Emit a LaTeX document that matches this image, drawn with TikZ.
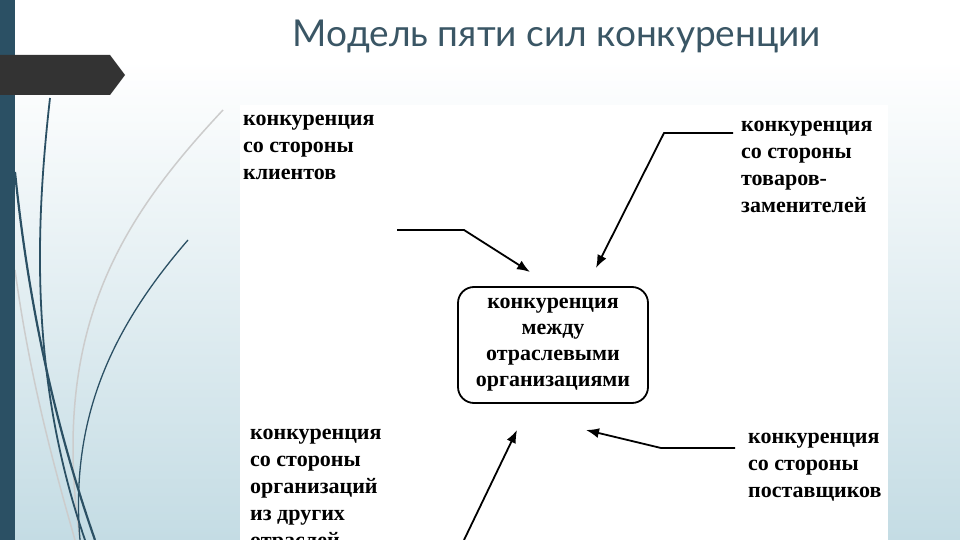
\documentclass[tikz,border=0pt]{standalone}
\usepackage{fontspec}
\setmainfont{Liberation Serif}
\newfontfamily\titlefont{Lato}
\usetikzlibrary{arrows.meta}
\definecolor{teal1}{HTML}{2B5064}
\definecolor{bgblue}{HTML}{C4DCE4}
\definecolor{titlec}{HTML}{3A5665}
\begin{document}
\begin{tikzpicture}[x=1pt,y=-1pt,
  lbl/.style={anchor=north west,align=left,font=\fontsize{22}{27}\selectfont\bfseries,inner sep=0pt},
  arr/.style={line width=1.8pt,-{Latex[length=13pt,width=10pt]}},
  curveT/.style={teal1,line width=2.2pt},
  curveG/.style={gray!40,line width=1.5pt}]
\useasboundingbox (0,0) rectangle (960,540);
\shade[top color=white,bottom color=bgblue] (0,60) rectangle (960,540);
\fill[white] (0,0) rectangle (960,60);
% curves
\draw[curveG] (223,110) .. controls (120,220) and (50,330) .. (80,540);
\draw[curveG] (15,270) .. controls (30,380) and (55,470) .. (75,540);
\draw[curveT] (15,172) .. controls (30,320) and (60,440) .. (95,540);
\draw[curveT,line width=1.8pt] (50,98) .. controls (35,230) and (30,380) .. (85,540);
\draw[curveT,line width=1.3pt] (188,240) .. controls (110,330) and (70,420) .. (80,540);
\fill[teal1] (0,0) rectangle (15,540);
\fill[black!80] (0,55) -- (110,55) -- (125,75) -- (110,95) -- (0,95) -- cycle;
\node[font=\titlefont\fontsize{37}{40}\selectfont,text=titlec] (title) at (557,36) {Модель пяти сил конкуренции};
% white panel
\fill[white] (240,105) rectangle (888,540);
\node[lbl] (cl) at (243,115) {конкуренция\\со стороны\\клиентов};
\node[lbl] (sub) at (741,121) {конкуренция\\со стороны\\товаров-\\заменителей};
\node[lbl] (oth) at (250,429) {конкуренция\\со стороны\\организаций\\из других\\отраслей};
\node[lbl] (sup) at (748,433) {конкуренция\\со стороны\\поставщиков};
\node[draw,line width=1.8pt,rounded corners=16pt,minimum width=190pt,minimum height=116pt,align=center,
  font=\fontsize{22}{26}\selectfont\bfseries] (c) at (553,345) {конкуренция\\между\\отраслевыми\\организациями};
\coordinate (a1) at (397,230); \coordinate (a1b) at (464,230); \coordinate (t1) at (530,272);
\coordinate (a2) at (733,133); \coordinate (a2b) at (664,133); \coordinate (t2) at (596,268);
\coordinate (a3) at (735,448); \coordinate (a3b) at (661,448); \coordinate (t3) at (586,430);
\coordinate (a4) at (464,540); \coordinate (t4) at (517,430);
\draw[arr] (a1) -- (a1b) -- (t1);
\draw[arr] (a2) -- (a2b) -- (t2);
\draw[arr] (a3) -- (a3b) -- (t3);
\draw[arr] (a4) -- (t4);
\end{tikzpicture}
\end{document}
